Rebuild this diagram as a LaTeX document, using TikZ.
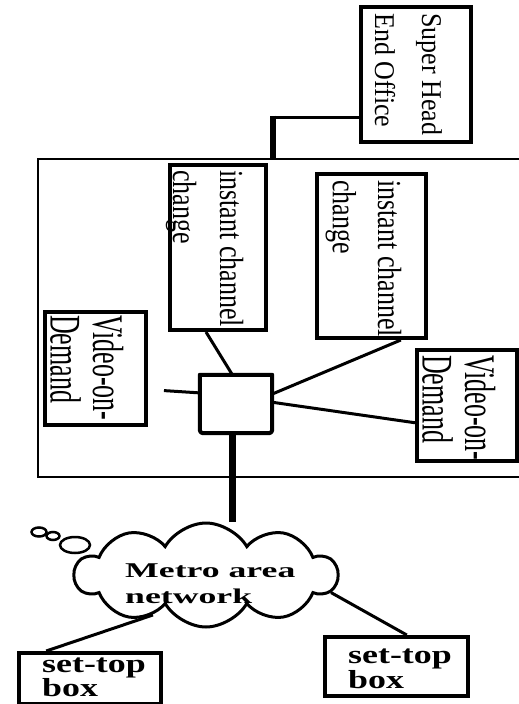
\documentclass[tikz,border=0pt]{standalone}
\usepackage{fontspec}
\setmainfont{Liberation Serif}
\usetikzlibrary{calc,shapes.symbols,shapes.geometric}
\newcommand\vtxt[4]{\scalebox{1}[#1]{\fontsize{26}{#2}\selectfont\begin{tabular}[t]{@{}l@{}}#3\\#4\end{tabular}}}
\newcommand\htxt[5]{\scalebox{#1}[1]{\fontsize{#2}{#3}\selectfont\bfseries\begin{tabular}[t]{@{}l@{}}#4\\#5\end{tabular}}}
\begin{document}
\begin{tikzpicture}[x=1pt,y=-1pt,
  box/.style={draw, line width=4pt, inner sep=0pt},
  vlabel/.style={rotate=-90, anchor=base west, inner sep=0pt},
  hlabel/.style={anchor=base west, inner sep=0pt},
  conn/.style={line width=3pt},
  bubble/.style={draw, ellipse, line width=2.5pt, inner sep=0pt}]
\useasboundingbox (0,0) rectangle (519,704);
\clip (0,0) rectangle (519,704);
\fill[white] (0,0) rectangle (519,704);

% outer frame
\node[draw, line width=2pt, minimum width=492pt, minimum height=318pt, inner sep=0pt] (frame) at (284,318) {};

% boxes
\node[box, minimum width=110pt, minimum height=135pt] (sh) at (416,74.5) {};
\node[box, minimum width=96pt, minimum height=165pt] (b1) at (218,247.5) {};
\node[box, minimum width=109pt, minimum height=164pt] (b2) at (371.5,256) {};
\node[box, minimum width=101pt, minimum height=113pt] (vodL) at (95.5,368.5) {};
\node[box, minimum width=100pt, minimum height=111pt] (vodR) at (467,405.5) {};
\node[minimum width=72pt, minimum height=58pt, inner sep=0pt] (hub) at (236,404) {};
\draw[line width=4pt, line join=round] (hub.north west) -- (hub.north east)
  -- ([yshift=7pt]hub.south east) .. controls (hub.south east) .. ([xshift=-7pt]hub.south east)
  -- ([xshift=7pt]hub.south west) .. controls (hub.south west) .. ([yshift=7pt]hub.south west)
  -- cycle;
\node[box, minimum width=142pt, minimum height=51pt] (stb1) at (90,678.5) {};
\node[box, minimum width=143pt, minimum height=59pt] (stb2) at (396.5,666.5) {};

% cloud
\node[cloud, draw, line width=3pt, cloud puffs=10, cloud puff arc=120, cloud ignores aspect,
  minimum width=262pt, minimum height=104pt, inner sep=0pt] (metro) at (206,575) {};
\node[bubble, minimum width=15pt, minimum height=9pt] (bub1) at (39,532) {};
\node[bubble, minimum width=13pt, minimum height=8pt] (bub2) at (53,536) {};
\node[bubble, minimum width=30pt, minimum height=16pt] (bub3) at (75,545) {};

% texts
\node[vlabel] (shT) at (422,13) {\vtxt{1.1}{42.7}{Super Head}{End Office}};
\node[vlabel] (b1T) at (220,170) {\vtxt{1.29}{36.4}{instant channel}{change}};
\node[vlabel] (b2T) at (378,180) {\vtxt{1.29}{34.9}{instant channel}{change}};
\node[vlabel] (vodLT) at (93,315) {\vtxt{1.68}{23.8}{Video-on-}{Demand}};
\node[vlabel] (vodRT) at (465,355) {\vtxt{1.68}{23.8}{Video-on-}{Demand}};
\node[hlabel] (metroT) at (125,577) {\htxt{1.7}{21}{26}{Metro area}{network}};
\node[hlabel] (stb1T) at (42,672) {\htxt{1.38}{26}{21}{set-top}{box}};
\node[hlabel] (stb2T) at (348,663) {\htxt{1.38}{26}{25}{set-top}{box}};

% connectors
\coordinate (j) at (273,117);
\draw[conn] (j -| sh.west) -- (j);
\draw[line width=6pt] ([yshift=1.5pt]j) -- (j |- frame.north);
\draw[conn] ($(b1.south west)!0.38!(b1.south east)$) -- ($(hub.north west)!0.45!(hub.north east)$);
\draw[conn] ($(b2.south west)!0.76!(b2.south east)$) -- ($(hub.north east)!0.33!(hub.south east)$);
\draw[conn] ($(hub.north east)!0.47!(hub.south east)$) -- ($(vodR.north west)!0.65!(vodR.south west)$);
\draw[conn, shorten <=16pt] ($(vodL.north east)!0.68!(vodL.south east)$) -- ($(hub.north west)!0.31!(hub.south west)$);
\coordinate (hubb) at ($(hub.south west)!0.45!(hub.south east)$);
\draw[line width=7pt] (hubb) -- (hubb |- metro.north);
\draw[conn] (metro.217) -- ($(stb1.north west)!0.2!(stb1.north east)$);
\draw[conn] (metro.352) -- ($(stb2.north west)!0.57!(stb2.north east)$);
\end{tikzpicture}
\end{document}
